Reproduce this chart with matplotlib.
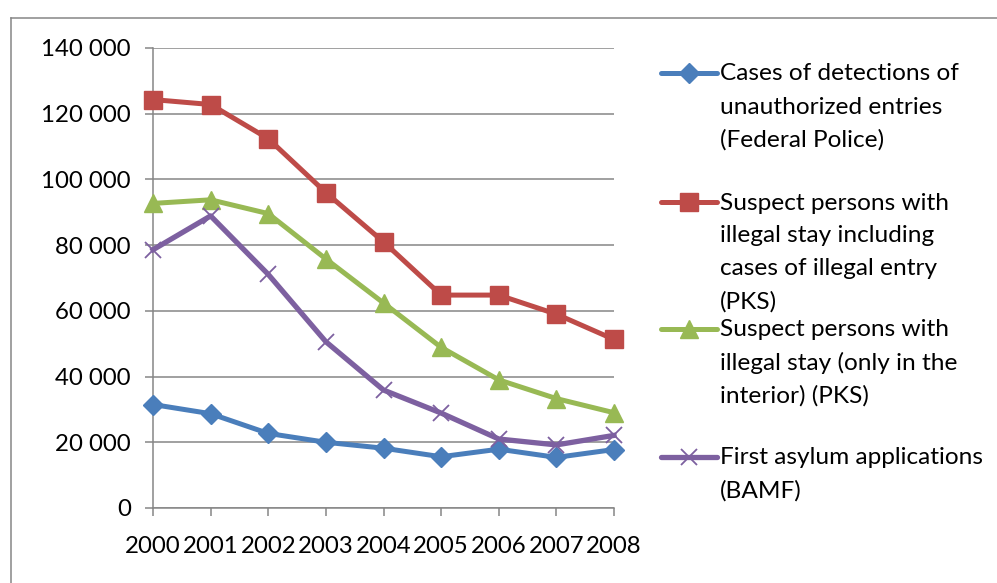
import matplotlib
matplotlib.use("Agg")
import matplotlib.pyplot as plt
from matplotlib.lines import Line2D
from matplotlib.ticker import FuncFormatter, MultipleLocator

plt.rcParams['font.family'] = ['Lato', 'DejaVu Sans']

years = ['2000', '2001', '2002', '2003', '2004', '2005', '2006', '2007', '2008']

detections_federal_police = [31500, 28700, 22700, 20000, 18200, 15600, 17900, 15400, 17800]
illegal_stay_incl_entry_pks = [124300, 122800, 112400, 96000, 81000, 64800, 64800, 59000, 51300]
illegal_stay_interior_pks = [92700, 93800, 89600, 75800, 62400, 48900, 39000, 33300, 29000]
first_asylum_bamf = [78600, 88900, 71100, 50600, 35900, 28900, 21000, 19200, 22100]

series_labels = [
    'Cases of detections of\nunauthorized entries\n(Federal Police)',
    'Suspect persons with\nillegal stay including\ncases of illegal entry\n(PKS)',
    'Suspect persons with\nillegal stay (only in the\ninterior) (PKS)',
    'First asylum applications\n(BAMF)',
]

W, H = 997, 583
fig = plt.figure(figsize=(W / 100, H / 100), dpi=100)

# plot area in pixel coordinates
left_px, right_px, top_px, bottom_px = 153, 614, 48, 508
ax = fig.add_axes([left_px / W, 1 - bottom_px / H,
                   (right_px - left_px) / W, (bottom_px - top_px) / H])

grey = '#868686'
styles = [
    dict(color='#4A7EBB', marker='D', ms=10, lw=3.6),
    dict(color='#BE4B48', marker='s', ms=13, lw=3.6),
    dict(color='#98B954', marker='^', ms=13, lw=3.6),
    dict(color='#7D60A0', marker='x', ms=12, mew=1.3, lw=3.8),
]
all_series = [detections_federal_police, illegal_stay_incl_entry_pks,
              illegal_stay_interior_pks, first_asylum_bamf]

xs = list(range(len(years)))
for vals, st in zip(all_series, styles):
    ax.plot(xs, vals, clip_on=False, zorder=3, **st)

ax.set_xlim(0, len(years) - 1)
ax.set_ylim(0, 140000)
ax.yaxis.set_major_locator(MultipleLocator(20000))
ax.yaxis.set_major_formatter(FuncFormatter(lambda v, p: f"{int(v):,}".replace(',', ' ')))
ax.set_xticks(xs)
ax.set_xticklabels(years)

ax.grid(axis='y', color=grey, lw=1.1)
ax.set_axisbelow(True)
for side in ('top', 'right'):
    ax.spines[side].set_visible(False)
for side in ('left', 'bottom'):
    ax.spines[side].set_color(grey)
    ax.spines[side].set_linewidth(1.1)
ax.tick_params(axis='both', colors=grey, labelcolor='black', labelsize=17.3,
               length=6, width=1.1)
ax.tick_params(axis='y', pad=10)
ax.tick_params(axis='x', pad=14)

# outer chart frame (left and top edges)
fig.add_artist(Line2D([11 / W, 11 / W], [0, 1 - 18 / H], color=grey, lw=1.1,
                      transform=fig.transFigure))
fig.add_artist(Line2D([11 / W, 1], [1 - 18 / H, 1 - 18 / H], color=grey, lw=1.1,
                      transform=fig.transFigure))

# legend drawn line by line
entry_tops = [74, 203, 330, 458]
line_step = 33
key_x0, key_x1, text_x = 661, 717, 720
for label, st, y0 in zip(series_labels, styles, entry_tops):
    yf = 1 - (y0 - 1) / H
    fig.add_artist(Line2D([key_x0 / W, key_x1 / W], [yf, yf], transform=fig.transFigure,
                          color=st['color'], lw=st['lw'], solid_capstyle='round'))
    fig.add_artist(Line2D([(key_x0 + key_x1) / 2 / W], [yf], transform=fig.transFigure,
                          color=st['color'], marker=st['marker'], ms=st['ms'],
                          mew=st.get('mew', 1.0), lw=0))
    for i, line in enumerate(label.split('\n')):
        fig.text(text_x / W, 1 - (y0 + i * line_step) / H, line,
                 fontsize=17.6, va='center', ha='left')

fig.savefig('out.png', dpi=100)
